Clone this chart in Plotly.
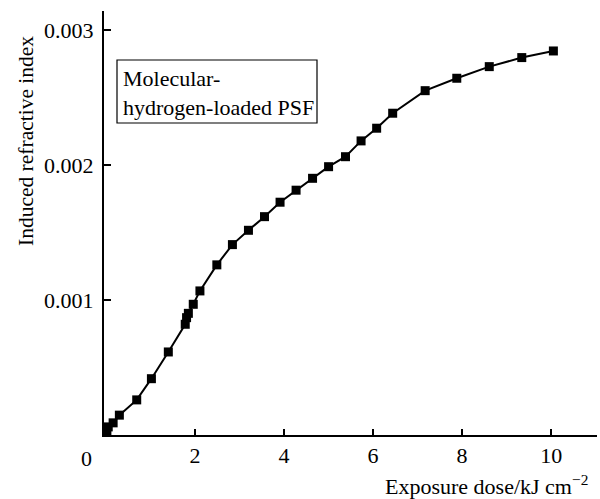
import plotly.graph_objects as go

# Exposure dose (kJ cm^-2) and induced refractive index
dose = [0.0, 0.02, 0.05, 0.16, 0.30, 0.69, 1.02, 1.40, 1.78, 1.81, 1.85, 1.96,
        2.11, 2.49, 2.84, 3.20, 3.56, 3.91, 4.27, 4.64, 5.00, 5.38, 5.73, 6.08,
        6.44, 7.17, 7.88, 8.61, 9.34, 10.05]
dn = [0.000008, 0.000024, 0.00006, 0.00009, 0.000147, 0.00026, 0.000417,
      0.000615, 0.00082, 0.000869, 0.000901, 0.000968, 0.001067, 0.00126,
      0.00141, 0.001516, 0.001617, 0.001724, 0.001813, 0.001901, 0.001987,
      0.002061, 0.002178, 0.002272, 0.002383, 0.00255, 0.002642, 0.002728,
      0.002795, 0.002844]

x_ticks = [2, 4, 6, 8, 10]
y_ticks = [0.001, 0.002, 0.003]
y_tick_text = ["0.001", "0.002", "0.003"]

FONT = "Liberation Serif, Times New Roman, serif"
FS = 22

# page and plot-area geometry in pixels
W, H = 600, 499
L, R, T, B = 104, 3, 11, 64
pw, ph = W - L - R, H - T - B


def px_to_paper(px, py):
    return (px - L) / pw, 1 - (py - T) / ph


fig = go.Figure()
fig.add_trace(go.Scatter(
    x=dose, y=dn, mode="lines+markers",
    line=dict(color="black", width=2),
    marker=dict(symbol="square", size=9, color="black"),
    showlegend=False,
))

ytx, yty = px_to_paper(26, 141)
xtx, xty = px_to_paper(590, 485)
lbx, lby = px_to_paper(121, 93)
bx0, by0 = px_to_paper(117, 60)
bx1, by1 = px_to_paper(317, 123)

fig.update_layout(
    width=W, height=H,
    margin=dict(l=L, r=R, t=T, b=B),
    paper_bgcolor="white", plot_bgcolor="white",
    font=dict(family=FONT, size=FS, color="black"),
    xaxis=dict(
        range=[-0.045, 11.03], tickvals=x_ticks,
        ticks="inside", ticklen=6, tickwidth=1.5, tickcolor="black",
        showline=True, linecolor="black", linewidth=2,
        showgrid=False, zeroline=False,
        tickfont=dict(family=FONT, size=FS),
    ),
    yaxis=dict(
        range=[0, 0.00314], tickvals=y_ticks, ticktext=y_tick_text,
        ticks="inside", ticklen=7, tickwidth=1.5, tickcolor="black",
        showline=True, linecolor="black", linewidth=2,
        showgrid=False, zeroline=False, ticklabelstandoff=4,
        tickfont=dict(family=FONT, size=FS),
    ),
    annotations=[
        # shared origin label
        dict(x=0, y=0, xref="x", yref="y", text="0", showarrow=False,
             xshift=-20, yshift=-23, font=dict(family=FONT, size=FS)),
        dict(x=ytx, y=yty, xref="paper", yref="paper",
             text="Induced refractive index", showarrow=False, textangle=-90,
             xanchor="center", yanchor="middle", font=dict(family=FONT, size=21.5)),
        dict(x=xtx, y=xty, xref="paper", yref="paper",
             text="Exposure dose/kJ cm<sup>−2</sup>", showarrow=False,
             xanchor="right", yanchor="middle", font=dict(family=FONT, size=FS)),
        dict(x=lbx, y=lby, xref="paper", yref="paper",
             text="Molecular-<br>hydrogen-loaded PSF", showarrow=False,
             xanchor="left", yanchor="middle", align="left",
             font=dict(family=FONT, size=FS)),
    ],
    shapes=[
        dict(type="rect", xref="paper", yref="paper",
             x0=bx0, x1=bx1, y0=by0, y1=by1,
             line=dict(color="black", width=1.2)),
    ],
)

fig.write_html("out.html")
